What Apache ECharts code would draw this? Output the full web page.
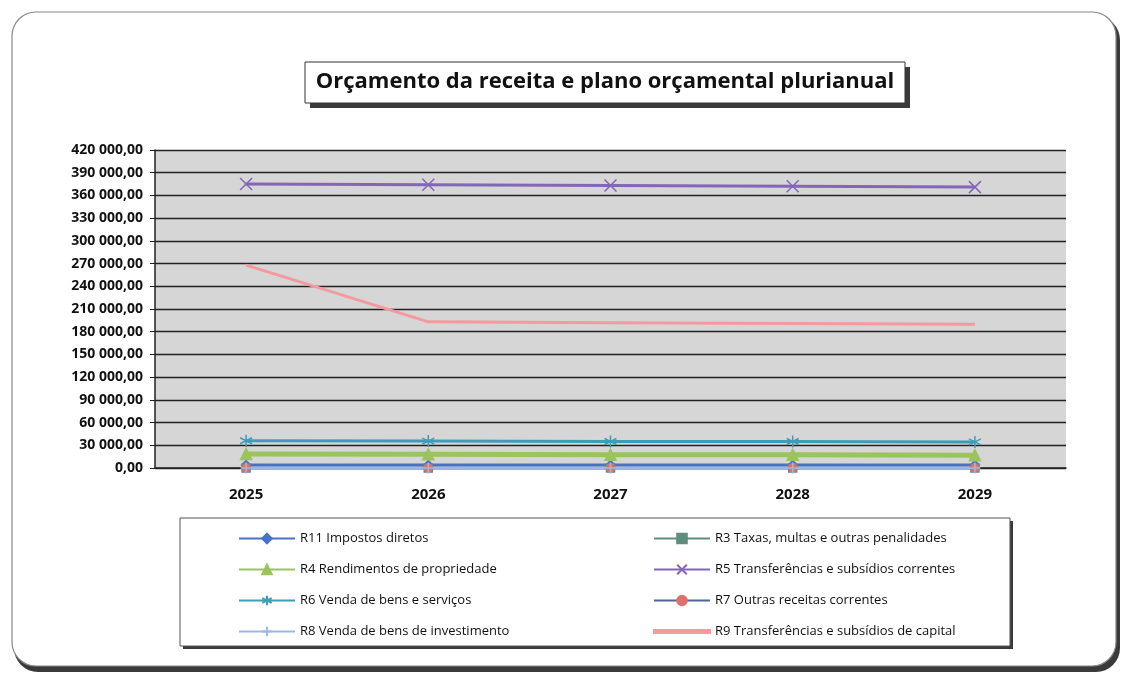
<!DOCTYPE html>
<html>
<head>
<meta charset="utf-8">
<script src="https://cdn.jsdelivr.net/npm/echarts@6/dist/echarts.min.js"></script>
<style>
  html, body { margin: 0; padding: 0; background: #fff; }
  #main { width: 1127px; height: 677px; }
</style>
</head>
<body>
<div id="main"></div>
<script>
// anos do plano
var anos = ['2025', '2026', '2027', '2028', '2029'];

// valores
var r11 = [4000, 4000, 4000, 4000, 4000];
var r3 = [0, 0, 0, 0, 0];
var r4 = [18500, 18000, 17500, 17500, 17000];
var r5 = [375000, 374000, 373000, 372000, 371000];
var r6 = [36000, 35500, 35000, 35000, 34500];
var r7 = [0, 0, 0, 0, 0];
var r8 = [0, 0, 0, 0, 0];
var r9 = [268000, 193000, 192000, 191000, 190000];

var yMax = 420000;
var yStep = 30000;

var legendLeft = ['R11 Impostos diretos', 'R4 Rendimentos de propriedade', 'R6 Venda de bens e serviços', 'R8 Venda de bens de investimento'];
var legendRight = ['R3 Taxas, multas e outras penalidades', 'R5 Transferências e subsídios correntes', 'R7 Outras receitas correntes', 'R9 Transferências e subsídios de capital'];

function fmt(v) {
    var s = String(Math.round(v));
    s = s.replace(/\B(?=(\d{3})+(?!\d))/g, ' ');
    return s + ',00';
}

var chart = echarts.init(document.getElementById('main'));

function serie(name, data, color, symbol, size, width, markerColor) {
    return {
        name: name,
        type: 'line',
        data: data,
        symbol: symbol,
        symbolSize: size,
        showSymbol: size > 0,
        lineStyle: { color: color, width: width },
        itemStyle: {
            color: markerColor || color,
            borderColor: markerColor || color,
            borderWidth: 1.5
        },
        z: 3
    };
}

var xSym = 'path://M0,0L10,10M0,10L10,0';
var starSym = 'path://M5,0L5,10M0,2.5L10,7.5M0,7.5L10,2.5';
var plusSym = 'path://M5,0L5,10M0,5L10,5';

var font = '"Open Sans", "Noto Sans", sans-serif';

// R9 sem marcador: na legenda só a linha
var legendRightData = legendRight.map(function (n, i) {
    return i === 3 ? { name: n, icon: 'path://M0,0h56v3h-56z' } : n;
});

var option = {
    backgroundColor: '#ffffff',
    animation: false,
    textStyle: { fontFamily: font },
    graphic: [
        // moldura exterior
        { type: 'rect', shape: { x: 14, y: 16, width: 1106, height: 656, r: 24 },
          style: { fill: '#3a3a3a' }, z: -12 },
        { type: 'rect', shape: { x: 12, y: 12, width: 1104, height: 654, r: 24 },
          style: { fill: '#fff', stroke: '#888', lineWidth: 1.2 }, z: -11 },
        // caixa do título
        { type: 'rect', shape: { x: 310, y: 67, width: 600, height: 41 },
          style: { fill: '#3a3a3a' }, z: -9 },
        { type: 'rect', shape: { x: 305, y: 62, width: 600, height: 41 },
          style: { fill: '#fff', stroke: '#333', lineWidth: 1 }, z: -8 },
        // caixa da legenda
        { type: 'rect', shape: { x: 183, y: 521, width: 830, height: 128 },
          style: { fill: '#3a3a3a' }, z: -7 },
        { type: 'rect', shape: { x: 180, y: 518, width: 830, height: 128 },
          style: { fill: '#fff', stroke: '#555', lineWidth: 1 }, z: -6 }
    ],
    title: {
        text: 'Orçamento da receita e plano orçamental plurianual',
        left: 605,
        top: 82,
        textAlign: 'center',
        textVerticalAlign: 'middle',
        padding: 0,
        textStyle: { fontSize: 22, fontWeight: 'bold', color: '#111', fontFamily: font }
    },
    legend: [{
        data: legendLeft,
        orient: 'vertical',
        left: 233,
        top: 527,
        itemWidth: 56,
        itemHeight: 12,
        itemGap: 18,
        textStyle: { fontSize: 13, color: '#111' }
    }, {
        data: legendRightData,
        orient: 'vertical',
        left: 648,
        top: 527,
        itemWidth: 56,
        itemHeight: 12,
        itemGap: 18,
        textStyle: { fontSize: 13, color: '#111' }
    }],
    grid: {
        left: 155,
        right: 61,
        top: 150,
        bottom: 209,
        show: true,
        backgroundColor: '#d6d6d6',
        borderWidth: 0
    },
    xAxis: {
        type: 'category',
        data: anos,
        boundaryGap: true,
        axisLine: { lineStyle: { color: '#222', width: 1.5 } },
        axisTick: { show: false },
        axisLabel: { fontSize: 15, fontWeight: 'bold', color: '#111', margin: 19 }
    },
    yAxis: {
        type: 'value',
        min: 0,
        max: yMax,
        interval: yStep,
        axisLine: { show: true, lineStyle: { color: '#222', width: 1.5 } },
        axisTick: { show: true, length: 5, lineStyle: { color: '#222' } },
        splitLine: { lineStyle: { color: '#222', width: 1.3 } },
        axisLabel: { fontSize: 14, fontWeight: 'bold', color: '#111', margin: 12, formatter: fmt }
    },
    series: [
        serie(legendLeft[0], r11, '#4a72c4', 'diamond', 9, 3),
        serie(legendRight[0], r3, '#5f8f7c', 'rect', 8, 2),
        serie(legendLeft[1], r4, '#9bc35e', 'triangle', 11, 5),
        serie(legendRight[1], r5, '#8466b8', xSym, 12, 3),
        serie(legendLeft[2], r6, '#3d9db8', starSym, 12, 3),
        serie(legendRight[2], r7, '#4f6497', 'circle', 8, 3, '#e0706a'),
        serie(legendLeft[3], r8, '#9db8e6', plusSym, 11, 3),
        serie(legendRight[3], r9, '#f49a9e', 'circle', 0, 3)
    ]
};

chart.setOption(option);
</script>
</body>
</html>
